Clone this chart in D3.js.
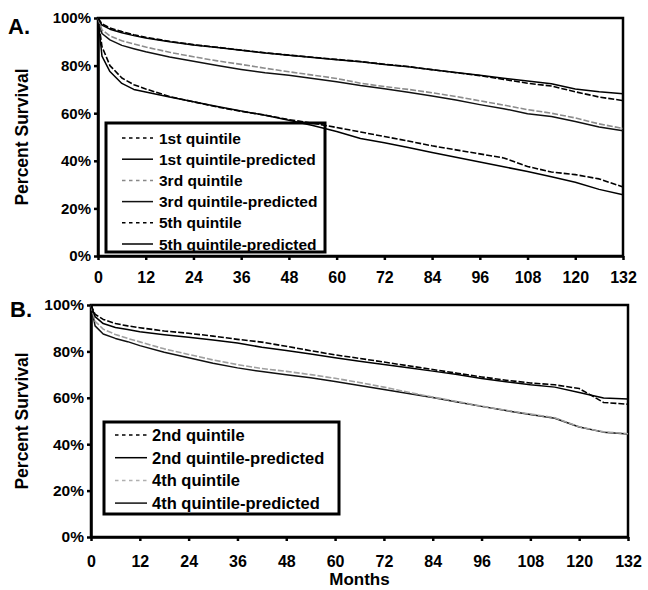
<!DOCTYPE html>
<html><head><meta charset="utf-8">
<script src="https://cdn.jsdelivr.net/npm/d3@7"></script>
<style>
html,body{margin:0;padding:0;background:#fff;}
svg text{font-family:"Liberation Sans",Arial,Helvetica,sans-serif;font-weight:bold;fill:#000;}
</style></head>
<body><svg id="c" width="648" height="590"></svg>
<script>
// ---- data ----
const months = [0,1,3,6,9,12,18,24,30,36,42,48,54,60,66,72,78,84,90,96,102,108,114,120,126,132];
const xTicks = [0,12,24,36,48,60,72,84,96,108,120,132];
const yTicks = [0,20,40,60,80,100];

// Panel A
const q1Obs  = [100,97.5,95.8,94.3,93,91.9,90.2,88.8,87.7,86.5,85.4,84.4,83.5,82.6,81.7,80.6,79.6,78.3,77,75.8,74.2,72.6,71.4,69,66.8,65.3];
const q1Pred = [100,97,95.3,93.8,92.6,91.6,90,88.7,87.6,86.4,85.3,84.3,83.4,82.5,81.6,80.5,79.5,78.3,77.1,75.9,74.7,73.5,72.4,70.2,69,68.2];
const q3Obs  = [100,95,92.5,90.4,89.1,87.8,85.6,83.7,82,80.5,78.9,77.4,76,74.6,72.6,71.2,70,68.6,67,65.2,63.4,61.5,60,58,55.5,53.6];
const q3Pred = [100,93.5,90.8,88.5,87.1,85.8,83.6,81.8,80,78.4,77,75.9,74.6,73.2,71.6,70.3,68.8,67.2,65.5,63.6,61.9,59.8,58.6,56.5,54.2,52.6];
const q5Obs  = [100,88,80,74.8,72,70.2,67,64.8,62.6,60.8,59.2,57.3,55.8,54,52.1,50.2,48.3,46.3,44.6,42.9,41.2,37.6,35.3,34.2,32.4,29];
const q5Pred = [100,84,77.5,72.5,70,68.9,66.8,64.8,62.8,60.9,59.1,57,54.8,52.3,49.4,47.6,45.6,43.5,41.5,39.5,37.5,35.5,33.3,31,28,25.7];

// Panel B
const q2Obs  = [100,96,93.8,92,91,90.2,88.8,87.8,86.6,85.2,84,82.2,80.3,78.5,77,75.4,73.8,72.2,70.6,69,67.6,66.4,65.6,64,58,57.2];
const q2Pred = [100,95,92,90.3,89.4,88.5,87.2,86.1,84.9,83.6,81.8,80.4,78.9,77.3,75.8,74.4,73,71.5,70,68.3,66.9,65.6,64.6,62.3,59.9,59.5];
const q4Obs  = [100,93,89.6,87.3,85.6,84.1,81.1,78.7,76.3,74.3,72.6,71.4,70,68.4,66.6,64.6,62.4,60.3,58.4,56.4,54.6,53,51.4,47.5,45.3,44.5];
const q4Pred = [100,91,87.5,85.6,84.2,82.5,79.6,77.3,74.9,72.9,71.3,69.9,68.6,67,65.3,63.6,61.9,60.1,58.2,56.3,54.5,52.8,51.2,47.4,45.2,44.4];

const legendA = ["1st quintile","1st quintile-predicted","3rd quintile","3rd quintile-predicted","5th quintile","5th quintile-predicted"];
const legendB = ["2nd quintile","2nd quintile-predicted","4th quintile","4th quintile-predicted"];

// ---- drawing ----
const svg = d3.select("#c");
const GRAY = "#8c8c8c";

function panel(cfg){
  const x = d3.scaleLinear().domain([0,132]).range([cfg.x0,cfg.x1]);
  const y = d3.scaleLinear().domain([0,100]).range([cfg.yb,cfg.yt]);
  const g = svg.append("g");

  g.append("rect").attr("x",cfg.x0).attr("y",cfg.yt).attr("width",cfg.x1-cfg.x0).attr("height",cfg.yb-cfg.yt)
    .attr("fill","none").attr("stroke","#000").attr("stroke-width",2.5);

  const ax = g.append("g").attr("transform",`translate(0,${cfg.yb})`)
    .call(d3.axisBottom(x).tickValues(xTicks).tickSize(4).tickPadding(cfg.xpad).tickSizeOuter(0));
  ax.selectAll("text").style("font-size",cfg.xfs+"px");
  const ay = g.append("g").attr("transform",`translate(${cfg.x0},0)`)
    .call(d3.axisLeft(y).tickValues(yTicks).tickFormat(d=>d+"%").tickSize(4).tickPadding(3).tickSizeOuter(0));
  ay.selectAll("text").style("font-size",cfg.yfs+"px");
  [ax,ay].forEach(a=>{
    a.select(".domain").attr("stroke","#000").attr("stroke-width",2.5);
    a.selectAll(".tick line").attr("stroke","#000").attr("stroke-width",2.5);
  });

  g.append("text").attr("transform",`translate(${cfg.titleX},${(cfg.yt+cfg.yb)/2}) rotate(-90)`)
    .attr("text-anchor","middle").style("font-size","17.5px").text("Percent Survival");
  g.append("text").attr("x",cfg.letterX).attr("y",cfg.letterY).style("font-size","22px").text(cfg.letter);

  const L = cfg.legend;
  g.append("rect").attr("x",L.x).attr("y",L.y).attr("width",L.w).attr("height",L.h)
    .attr("fill","#fff").attr("stroke","#000").attr("stroke-width",3);
  cfg.series.forEach((s,i)=>{
    const cy = L.row0 + i*L.step;
    g.append("line").attr("x1",L.lx1).attr("x2",L.lx2).attr("y1",cy).attr("y2",cy)
      .attr("stroke",s.legendColor||s.color).attr("stroke-width",1.5)
      .attr("stroke-dasharray",s.dash?"3.5,3.5":null);
    g.append("text").attr("x",L.tx).attr("y",cy).attr("dy","0.36em")
      .style("font-size",L.fs+"px").text(s.name);
  });

  const line = d3.line().x((d,i)=>x(months[i])).y(d=>y(d));
  cfg.series.slice().reverse().forEach(s=>{
    g.append("path").datum(s.values).attr("d",line).attr("fill","none")
      .attr("stroke",s.color).attr("stroke-width",s.dash?1.6:1.5)
      .attr("stroke-dasharray",s.dash?"6,2":null).attr("stroke-linejoin","round");
  });
  return {x,y};
}

panel({
  x0:98,x1:623,yt:18,yb:256,xpad:12,xfs:16,yfs:15,titleX:28,letter:"A.",letterX:8,letterY:34,
  legend:{x:106,y:123,w:219,h:129,row0:138,step:21.2,lx1:122,lx2:153,tx:159,fs:15.5},
  series:[
    {name:legendA[0],values:q1Obs,color:"#000",dash:true},
    {name:legendA[1],values:q1Pred,color:"#000"},
    {name:legendA[2],values:q3Obs,color:GRAY,legendColor:"#888",dash:true},
    {name:legendA[3],values:q3Pred,color:"#111"},
    {name:legendA[4],values:q5Obs,color:"#000",dash:true},
    {name:legendA[5],values:q5Pred,color:"#000"}
  ]
});

panel({
  x0:91,x1:628,yt:305,yb:537,xpad:15,xfs:16,yfs:15.5,titleX:28,letter:"B.",letterX:10,letterY:317,
  legend:{x:104,y:422,w:235,h:92,row0:435,step:22.7,lx1:115,lx2:147,tx:152,fs:16.5},
  series:[
    {name:legendB[0],values:q2Obs,color:"#000",dash:true},
    {name:legendB[1],values:q2Pred,color:"#000"},
    {name:legendB[2],values:q4Obs,color:"#a0a0a0",legendColor:"#b0b0b0",dash:true},
    {name:legendB[3],values:q4Pred,color:"#111"}
  ]
});

svg.append("text").attr("x",(91+628)/2).attr("y",585).attr("text-anchor","middle")
  .style("font-size","17px").text("Months");
</script></body></html>
